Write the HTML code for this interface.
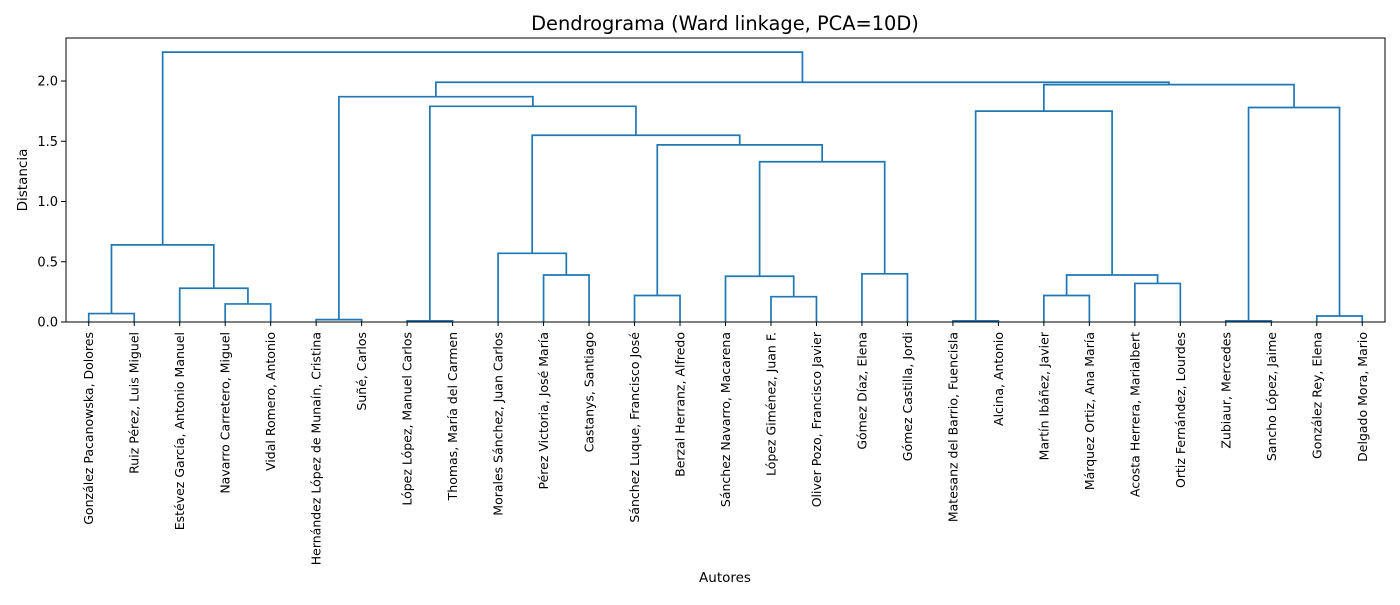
<!DOCTYPE html>
<html><head><meta charset="utf-8"><style>
body{margin:0;background:#fff;font-family:"Liberation Sans","DejaVu Sans",sans-serif}
svg text{font-family:"DejaVu Sans","Liberation Sans",sans-serif}
</style></head><body>
<svg id="c" width="1400" height="600" xmlns="http://www.w3.org/2000/svg">
<rect width="1400" height="600" fill="#fff"/>
<text x="725" y="30" text-anchor="middle" font-size="19.4">Dendrograma (Ward linkage, PCA=10D)</text>
<text x="725" y="582" text-anchor="middle" font-size="13.5">Autores</text>
<text transform="translate(27,180) rotate(-90)" text-anchor="middle" font-size="13.5">Distancia</text>
<g id="links"></g><g id="ticks"></g><g id="labels"></g>
<rect x="66" y="38" width="1319" height="284" fill="none" stroke="#000" stroke-width="1"/>
</svg>
<script>
const leaves = ["González Pacanowska, Dolores","Ruiz Pérez, Luis Miguel","Estévez García, Antonio Manuel","Navarro Carretero, Miguel","Vidal Romero, Antonio","Hernández López de Munaín, Cristina","Suñé, Carlos","López López, Manuel Carlos","Thomas, María del Carmen","Morales Sánchez, Juan Carlos","Pérez Victoria, José María","Castanys, Santiago","Sánchez Luque, Francisco José","Berzal Herranz, Alfredo","Sánchez Navarro, Macarena","López Giménez, Juan F.","Oliver Pozo, Francisco Javier","Gómez Díaz, Elena","Gómez Castilla, Jordi","Matesanz del Barrio, Fuencisla","Alcina, Antonio","Martín Ibáñez, Javier","Márquez Ortiz, Ana María","Acosta Herrera, Marialbert","Ortiz Fernández, Lourdes","Zubiaur, Mercedes","Sancho López, Jaime","González Rey, Elena","Delgado Mora, Mario"];
const heights = [0.07,0.15,0.28,0.64,0.02,0.01,0.39,0.57,0.22,0.21,0.38,0.40,1.33,1.47,1.55,1.79,1.87,0.01,0.22,0.32,0.39,1.75,0.01,0.05,1.78,1.97,1.99,2.24];
const kids=[[0,1],[3,4],[2,30],[29,31],[5,6],[7,8],[10,11],[9,35],[12,13],[15,16],[14,38],[17,18],[39,40],[37,41],[36,42],[34,43],[33,44],[19,20],[21,22],[23,24],[47,48],[46,49],[25,26],[27,28],[51,52],[50,53],[45,54],[32,55]];
const yTicks=[0,0.5,1,1.5,2];
const X0=66,X1=1385,Y0=322,Ymax=2.357,H=284;
const xs=i=>X0+(10*i+5)*(X1-X0)/(10*leaves.length);
const ys=v=>Y0-v/Ymax*H;
const NS="http://www.w3.org/2000/svg";
const n=leaves.length;
const px=[],py=[];
for(let i=0;i<n;i++){px[i]=xs(i);py[i]=Y0;}
const links=document.getElementById('links');
kids.forEach((k,m)=>{
  const id=n+m,[a,b]=k,y=ys(heights[m]);
  px[id]=(px[a]+px[b])/2;py[id]=y;
  const p=document.createElementNS(NS,'path');
  p.setAttribute('d',`M${px[a]},${py[a]}V${y}H${px[b]}V${py[b]}`);
  p.setAttribute('fill','none');p.setAttribute('stroke','#1f77b4');p.setAttribute('stroke-width','1.7');
  
  
  links.appendChild(p);
});
const tk=document.getElementById('ticks');
yTicks.forEach(v=>{
  const y=ys(v);
  const l=document.createElementNS(NS,'line');
  l.setAttribute('x1',61);l.setAttribute('x2',66);l.setAttribute('y1',y);l.setAttribute('y2',y);l.setAttribute('stroke','#000');
  
  
  tk.appendChild(l);
  const t=document.createElementNS(NS,'text');
  t.setAttribute('x',58);t.setAttribute('y',y+4.5);t.setAttribute('text-anchor','end');t.setAttribute('font-size','13');
  t.textContent=v.toFixed(1);
  
  
  tk.appendChild(t);
});
const lb=document.getElementById('labels');
leaves.forEach((s,i)=>{
  const x=xs(i);
  const l=document.createElementNS(NS,'line');
  l.setAttribute('x1',x);l.setAttribute('x2',x);l.setAttribute('y1',322);l.setAttribute('y2',326);l.setAttribute('stroke','#000');
  
  
  lb.appendChild(l);
  const t=document.createElementNS(NS,'text');
  t.setAttribute('transform',`translate(${x+4.5},332) rotate(-90)`);
  t.setAttribute('text-anchor','end');t.setAttribute('font-size','12.5');
  t.textContent=s;
  
  
  lb.appendChild(t);
});
</script>
</body></html>
